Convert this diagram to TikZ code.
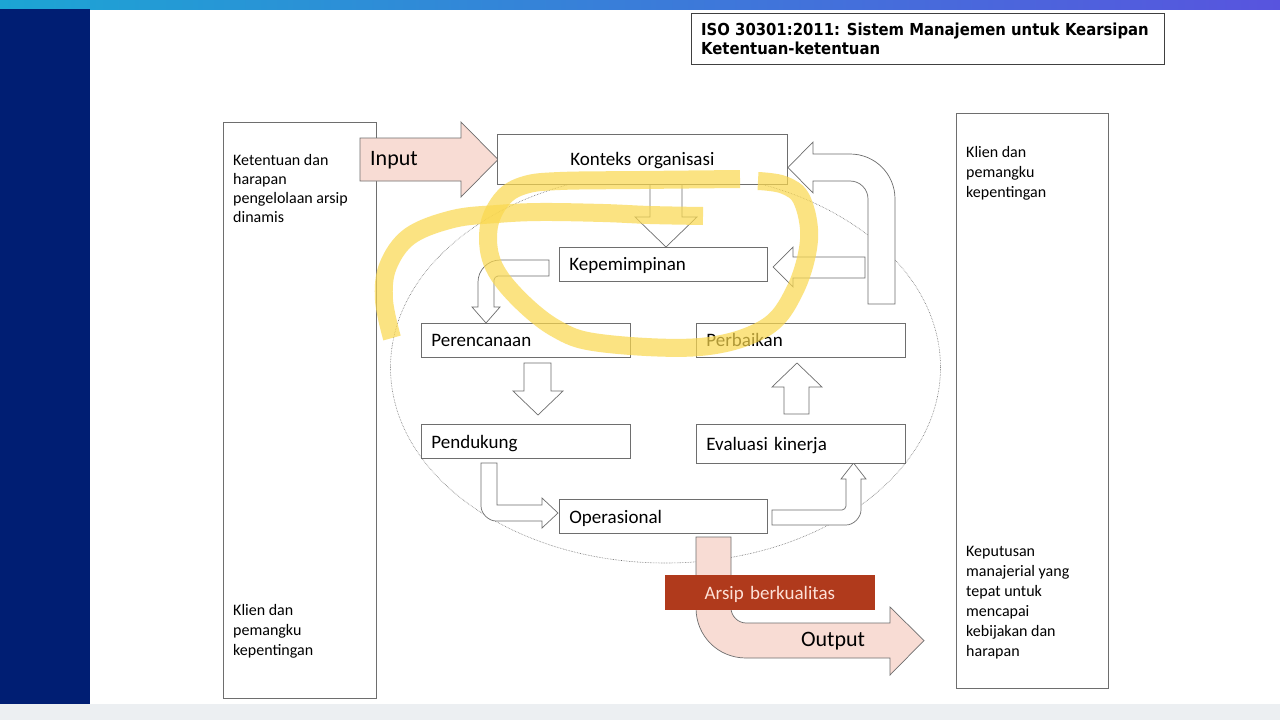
\documentclass[tikz,border=0pt]{standalone}
\usepackage{fontspec}
\setmainfont{Carlito}
\newfontfamily\headfont{DejaVu Sans Condensed}
\usetikzlibrary{positioning,calc}
\definecolor{navybar}{RGB}{0,30,115}
\definecolor{topleft}{RGB}{28,165,212}
\definecolor{topright}{RGB}{88,84,222}
\definecolor{framegray}{RGB}{110,110,110}
\definecolor{pinkfill}{RGB}{248,220,212}
\definecolor{arsipred}{RGB}{176,58,28}
\definecolor{arsiptext}{RGB}{253,224,214}
\definecolor{marker}{RGB}{250,216,78}
\definecolor{footgray}{RGB}{236,239,242}

\tikzset{
  procbox/.style={draw=framegray, line width=0.8pt, fill=white, inner ysep=0pt,
    inner xsep=10pt, minimum height=34pt, align=left, text depth=0pt,
    font=\fontsize{19}{23}\selectfont, anchor=north west},
  sidebox/.style={draw=framegray, line width=0.8pt, fill=white, inner sep=0pt, anchor=north west},
  sidetext/.style={anchor=north west, align=left, inner sep=0pt, font=\fontsize{16}{20}\selectfont},
  blockarrow/.style={draw=framegray, line width=0.7pt, fill=white},
  pinkarrow/.style={draw=framegray, line width=0.7pt, fill=pinkfill},
  highlight/.style={draw=marker, line width=18pt, line cap=butt, line join=round, opacity=0.7},
}

\begin{document}
\begin{tikzpicture}[x=1pt,y=-1pt]
\useasboundingbox (0,0) rectangle (1280,720);
% slide background
\fill[white] (0,0) rectangle (1280,720);
\shade[left color=topleft, right color=topright] (0,0) rectangle (1280,9);
\fill[navybar] (0,9) rectangle (90,704);
\fill[footgray] (0,704) rectangle (1280,720);

% title
\draw[black!75, line width=1pt] (691,13) rectangle (1164,64);
\node[anchor=north west, inner sep=0pt, align=left,
  font=\headfont\bfseries\fontsize{16.5}{18.5}\selectfont] (title) at (701,23)
  {ISO 30301:2011: Sistem Manajemen untuk Kearsipan\\Ketentuan-ketentuan};

% cycle ellipse
\draw[framegray, densely dotted, line width=0.6pt] (665.5,367.5) ellipse [x radius=275, y radius=195.5];

% side columns
\node[sidebox, minimum width=153pt, minimum height=576pt] (leftcol) at (223,122) {};
\node[sidebox, minimum width=152pt, minimum height=575pt] (rightcol) at (956,113) {};
\node[sidetext, font=\fontsize{16}{19}\selectfont] (needs) at (233,154) {Ketentuan dan\\harapan\\pengelolaan arsip\\dinamis};
\node[sidetext] (clientsL) at (233,604) {Klien dan\\pemangku\\kepentingan};
\node[sidetext] (clientsR) at (966,146) {Klien dan\\pemangku\\kepentingan};
\node[sidetext] (decision) at (966,546) {Keputusan\\manajerial yang\\tepat untuk\\mencapai\\kebijakan dan\\harapan};

% input / output
\draw[pinkarrow] (360,138) -- (461,138) -- (461,122) -- (498,159.5) -- (461,197) -- (461,181) -- (360,181) -- cycle;
\node[font=\fontsize{22}{26}\selectfont, anchor=west, inner sep=0pt] (inlabel) at (370,160) {Input};
\draw[pinkarrow] (696,537) -- (696,608) .. controls (696,636) and (718,658) .. (746,658)
  -- (890,658) -- (890,675) -- (924,640.5) -- (890,607) -- (890,623) -- (746,623)
  .. controls (738,623) and (731,616) .. (731,608) -- (731,537) -- cycle;
\node[font=\fontsize{22}{26}\selectfont, inner sep=0pt] (outlabel) at (833,641) {Output};

% block arrows
\draw[blockarrow] (650,184) -- (650,217) -- (635,217) -- (666,247) -- (697,217) -- (682,217) -- (682,184) -- cycle;
\draw[blockarrow] (865,257) -- (793,257) -- (793,247) -- (773,267) -- (793,287) -- (793,278) -- (865,278) -- cycle;
\draw[blockarrow] (868,304) -- (868,199) .. controls (868,189) and (860,181) .. (850,181) -- (813,181)
  -- (813,193) -- (788,167.5) -- (813,142) -- (813,154) -- (850,154)
  .. controls (875,154) and (895,174) .. (895,199) -- (895,304) -- cycle;
\draw[blockarrow] (549,260) -- (500,260) .. controls (488,260) and (478,270) .. (478,282) -- (478,307)
  -- (472,307) -- (486,323) -- (500,307) -- (494,307) -- (494,280)
  .. controls (494,278) and (496,276) .. (498,276) -- (549,276) -- cycle;
\draw[blockarrow] (524,363) -- (524,391) -- (513,391) -- (538,415) -- (563,391) -- (551,391) -- (551,363) -- cycle;
\draw[blockarrow] (784,414) -- (784,387) -- (772,387) -- (797,363) -- (822,387) -- (809,387) -- (809,414) -- cycle;
\draw[blockarrow] (481,463) -- (481,506) .. controls (481,514) and (489,521) .. (496,521) -- (542,521)
  -- (542,528) -- (558,513) -- (542,498) -- (542,505) -- (497,505) -- (497,463) -- cycle;
\draw[blockarrow] (772,510) -- (842,510) .. controls (844,510) and (846,508) .. (846,506) -- (846,479)
  -- (841,479) -- (853.5,463) -- (866,479) -- (861,479) -- (861,510)
  .. controls (861,517) and (854,525) .. (846,525) -- (772,525) -- cycle;

% process boxes
\node[procbox, minimum width=290pt, minimum height=50pt, text width=270pt, align=center] (konteks) at (497,134) {Konteks organisasi};
\node[procbox, minimum width=208pt, text width=188pt] (kepemimpinan) at (559,247) {Kepemimpinan};
\node[procbox, minimum width=209pt, text width=189pt] (perencanaan) at (421,323) {Perencanaan};
\node[procbox, minimum width=209pt, text width=189pt] (perbaikan) at (696,323) {Perbaikan};
\node[procbox, minimum width=209pt, text width=189pt] (pendukung) at (421,424) {Pendukung};
\node[procbox, minimum width=209pt, minimum height=39pt, text width=189pt] (evaluasi) at (696,424) {Evaluasi kinerja};
\node[procbox, minimum width=208pt, text width=188pt] (operasional) at (559,499) {Operasional};
\node[procbox, minimum width=209pt, text width=189pt, align=center, fill=arsipred, draw=arsipred,
  text=arsiptext] (arsip) at (665,575) {Arsip berkualitas};

% marker scribble
\draw[highlight] plot[smooth, tension=0.6] coordinates {(740,179) (640,180) (560,181) (525,185)
  (503,198) (489,226) (492,262) (515,295) (555,328) (600,343) (700,347) (765,328) (795,290)
  (809,240) (802,200) (784,185) (758,181)};
\draw[highlight] plot[smooth, tension=0.6] coordinates {(703,216) (650,215) (603,213) (540,212)
  (497,214) (453,219) (410,236) (388,266) (384,300) (392,338)};
\end{tikzpicture}
\end{document}
